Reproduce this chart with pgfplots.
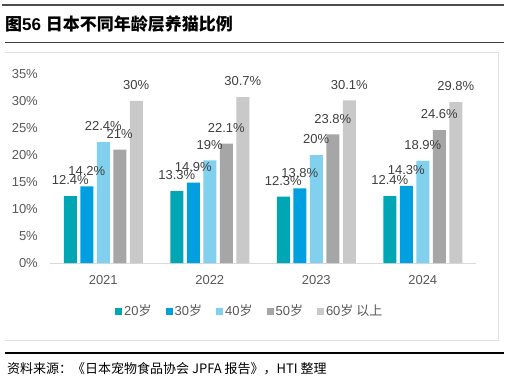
\documentclass[border=0pt]{standalone}
\usepackage{pgfplots}
\pgfplotsset{compat=1.18}
\usepackage{fontspec}
\setmainfont{Liberation Sans}
\newfontfamily\cjk{Noto Sans CJK SC}
\definecolor{c1}{HTML}{00A6B4}
\definecolor{c2}{HTML}{00A0E0}
\definecolor{c3}{HTML}{80D0EE}
\definecolor{c4}{HTML}{A6A6A6}
\definecolor{c5}{HTML}{C9C9C9}
\definecolor{tickc}{HTML}{595959}
\definecolor{labc}{HTML}{404040}
\begin{document}
\begin{tikzpicture}[x=1bp,y=1bp]
\useasboundingbox (0,0) rectangle (510,381);
\fill[white] (0,0) rectangle (510,381);
\draw[color=black!70, line width=1.5bp] (2,376) -- (504,376);
\node[anchor=west, inner sep=0pt] at (5,356.5) {\fontsize{17bp}{20bp}\selectfont{\cjk\bfseries 图}{\bfseries 56} {\cjk\bfseries 日本不同年龄层养猫比例}};
\draw[color=black!75, line width=1bp] (5,339) -- (504,339);
\draw[color=black!12, line width=1bp] (5,329) -- (498,329) -- (498,41) -- (5,41);
\draw[color=black, line width=1.3bp] (5,28) -- (504,28);
\node[anchor=west, inner sep=0pt] at (7,12) {\fontsize{13bp}{15bp}\selectfont\cjk 资料来源：《日本宠物食品协会 JPFA 报告》，HTI 整理};
\begin{axis}[
  at={(50bp,118bp)}, anchor=south west, scale only axis,
  width=426bp, height=189bp,
  xmin=-0.5, xmax=3.5, ymin=0, ymax=35,
  ybar=3.5bp, bar width=13bp,
  /pgf/number format/assume math mode=true,
  xtick={0,1,2,3}, xticklabels={2021,2022,2023,2024},
  ytick={0,5,...,35},
  yticklabel={\pgfmathprintnumber{\tick}\%},
  major tick length=0pt,
  axis x line*=bottom, axis y line*=left,
  x axis line style={draw=black!15, line width=1bp, -},
  y axis line style={draw=none},
  ticklabel style={font=\fontsize{13bp}{15bp}\selectfont, text=tickc},
  xticklabel style={anchor=north, inner sep=0pt, yshift=-12bp},
  yticklabel style={anchor=east, inner sep=0pt, xshift=-12bp},
  nodes near coords={\pgfmathprintnumber{\pgfplotspointmeta}\%},
  nodes near coords style={font=\fontsize{13bp}{15bp}\selectfont, text=labc, anchor=south, inner sep=0pt, yshift=11bp},
  legend style={at={(0.469,-0.254)}, anchor=center, draw=none, fill=none,
    legend columns=5, font=\fontsize{13bp}{15bp}\selectfont, text=tickc,
    /tikz/every even column/.append style={column sep=12bp}},
  legend image code/.code={\fill[#1, draw=none] (0bp,-3.5bp) rectangle (7bp,3.5bp);},
]
\addplot[fill=c1, draw=none] coordinates {(0,12.4) (1,13.3) (2,12.3) (3,12.4)};
\addplot[fill=c2, draw=none] coordinates {(0,14.2) (1,14.9) (2,13.8) (3,14.3)};
\addplot[fill=c3, draw=none] coordinates {(0,22.4) (1,19) (2,20) (3,18.9)};
\addplot[fill=c4, draw=none] coordinates {(0,21) (1,22.1) (2,23.8) (3,24.6)};
\addplot[fill=c5, draw=none] coordinates {(0,30) (1,30.7) (2,30.1) (3,29.8)};
\legend{{20{\cjk 岁}},{30{\cjk 岁}},{40{\cjk 岁}},{50{\cjk 岁}},{60{\cjk 岁 以上}}}
\end{axis}
\end{tikzpicture}
\end{document}
